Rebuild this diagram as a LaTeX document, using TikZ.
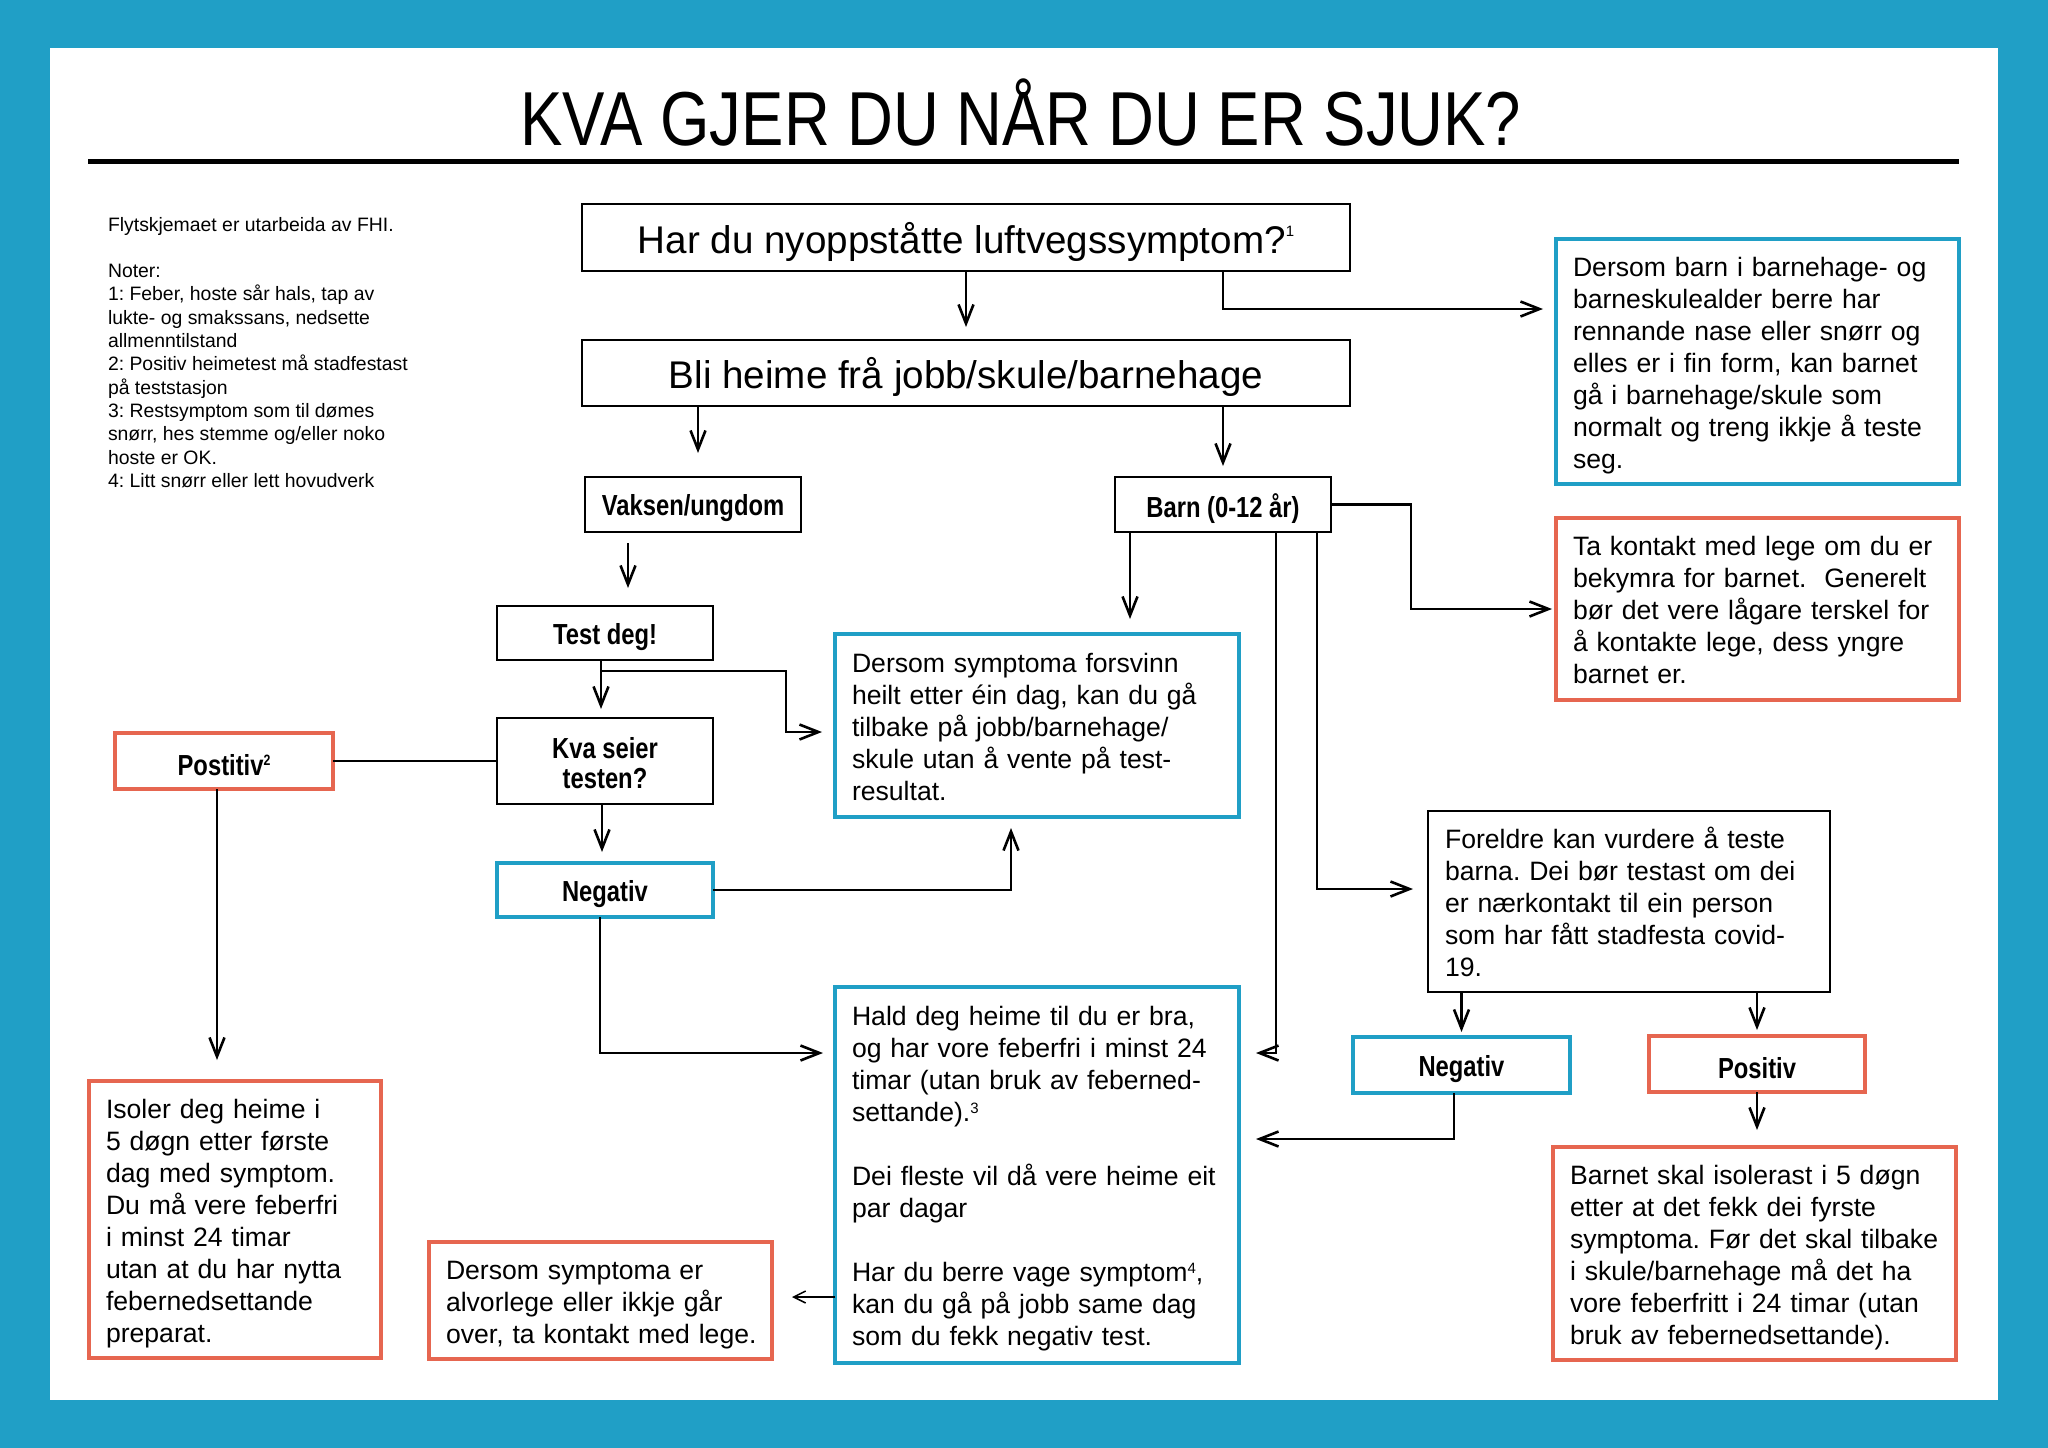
\documentclass[tikz,border=0pt]{standalone}
\usepackage{fontspec}
\setmainfont{Liberation Sans}
\newfontfamily\narrowfont[FakeStretch=0.82]{Liberation Sans}
\newfontfamily\titlefont[FakeStretch=0.83]{Liberation Sans}
\usetikzlibrary{arrows.meta,calc}
\definecolor{fhiblue}{RGB}{32,159,198}
\definecolor{fhired}{RGB}{230,102,80}
\newcommand\boxlines[1]{\raisebox{-4.5pt}[\height][\depth]{\begin{tabular}{@{}l@{}}#1\end{tabular}}}
\newcommand\lowertext[1]{\raisebox{-4pt}[\height][\depth]{#1}}
\newcommand\supnum[2]{\raisebox{#2}{\fontsize{15}{15}\selectfont #1}}
\frenchspacing
\begin{document}
\begin{tikzpicture}[x=1pt,y=-1pt,
  every node/.style={inner sep=0pt, outer sep=0pt},
  conn/.style={line width=2.6pt, -{Straight Barb[length=19pt,width=15pt]}},
  plainline/.style={line width=2.6pt},
  thinarrow/.style={line width=1.5pt, -{Straight Barb[length=12pt,width=12pt]}},
  bigbox/.style={draw, line width=2.8pt, font=\fontsize{38.6}{46}\selectfont, minimum width=768pt, minimum height=67pt},
  lbl/.style={draw, line width=2.8pt, font=\narrowfont\bfseries\fontsize{29}{30}\selectfont, minimum width=216pt, minimum height=55pt, align=center},
  bluelbl/.style={lbl, draw=fhiblue, line width=4.5pt},
  redlbl/.style={lbl, draw=fhired, line width=4.5pt},
  tbox/.style={draw, line width=2.8pt, font=\fontsize{26.6}{32}\selectfont, inner xsep=17pt, align=left, text width=#1},
  bluebox/.style={tbox=#1, draw=fhiblue, line width=4.5pt},
  redbox/.style={tbox=#1, draw=fhired, line width=4.5pt}
]
\useasboundingbox (0,0) rectangle (2048,1448);
\fill[fhiblue] (0,0) rectangle (2048,1448);
\fill[white] (50,48) rectangle (1998,1400);

% title
\node[anchor=base, font=\titlefont\fontsize{76.5}{80}\selectfont] (title) at (1021,145) {KVA GJER DU NÅR DU ER SJUK?};
\coordinate (ruleL) at (88,161);
\coordinate (ruleR) at (1959,161);
\draw[line width=5pt] (ruleL) -- (ruleR);

% notes
\node[anchor=north west, font=\fontsize{19.4}{23.3}\selectfont] (notes) at (108,214.7) {\begin{tabular}{@{}l@{}}%
Flytskjemaet er utarbeida av FHI.\\[23.3pt]
Noter:\\
1: Feber, hoste sår hals, tap av\\
lukte- og smakssans, nedsette\\
allmenntilstand\\
2: Positiv heimetest må stadfestast\\
på teststasjon\\
3: Restsymptom som til dømes\\
snørr, hes stemme og/eller noko\\
hoste er OK.\\
4: Litt snørr eller lett hovudverk\end{tabular}};

% main boxes
\node[bigbox] (q1) at (966,237.5) {\lowertext{Har du nyoppståtte luftvegssymptom?\supnum{1}{16.5pt}}};
\node[bigbox, minimum height=66pt] (stay) at (966,373) {\lowertext{Bli heime frå jobb/skule/barnehage}};

\node[bluebox=369pt, minimum height=245pt] (kidsok) at (1757.5,361.5) {\boxlines{%
Dersom barn i barnehage- og\\
barneskulealder berre har\\
rennande nase eller snørr og\\
elles er i fin form, kan barnet\\
gå i barnehage/skule som\\
normalt og treng ikkje å teste\\
seg.}};

\node[redbox=369pt, minimum height=182pt] (doctor) at (1757.5,609) {\boxlines{%
Ta kontakt med lege om du er\\
bekymra for barnet.~ Generelt\\
bør det vere lågare terskel for\\
å kontakte lege, dess yngre\\
barnet er.}};

\node[lbl] (adult) at (693,504.5) {\lowertext{Vaksen/ungdom}};
\node[lbl] (child) at (1223,504.5) {\lowertext{Barn (0-12 år)}};
\node[lbl, minimum height=54pt] (test) at (605,633) {\lowertext{Test deg!}};
\node[lbl, minimum height=86pt] (result) at (605,761) {\raisebox{-6pt}[\height][\depth]{\begin{tabular}{@{}c@{}}Kva seier\\testen?\end{tabular}}};
\node[bluelbl, minimum height=54pt] (negA) at (605,890) {\lowertext{Negativ}};
\node[redlbl, minimum width=218pt, minimum height=56pt] (posA) at (224,761) {\lowertext{Postitiv\supnum{2}{9.5pt}}};

\node[bluebox=370pt, minimum height=183pt] (gone) at (1037,725.5) {\boxlines{%
Dersom symptoma forsvinn\\
heilt etter éin dag, kan du gå\\
tilbake på jobb/barnehage/\\
skule utan å vente på test-\\
resultat.}};

\node[bluebox=370pt, minimum height=376pt] (home) at (1037,1175) {\boxlines{%
Hald deg heime til du er bra,\\
og har vore feberfri i minst 24\\
timar (utan bruk av feberned-\\
settande).\supnum{3}{8pt}\\[32pt]
Dei fleste vil då vere heime eit\\
par dagar\\[32pt]
Har du berre vage symptom\supnum{4}{8pt},\\
kan du gå på jobb same dag\\
som du fekk negativ test.}};

\node[tbox=368pt, minimum height=181pt] (parents) at (1629,901.5) {\boxlines{%
Foreldre kan vurdere å teste\\
barna. Dei bør testast om dei\\
er nærkontakt til ein person\\
som har fått stadfesta covid-\\
19.}};

\node[bluelbl, minimum width=217pt, minimum height=56pt] (negB) at (1461.5,1065) {\lowertext{Negativ}};
\node[redlbl, minimum height=56pt] (posB) at (1757,1064) {\lowertext{Positiv}};

\node[redbox=258pt, minimum height=277pt] (isolate) at (235,1219.5) {\boxlines{%
Isoler deg heime i\\
5 døgn etter første\\
dag med symptom.\\
Du må vere feberfri\\
i minst 24 timar\\
utan at du har nytta\\
febernedsettande\\
preparat.}};

\node[redbox=309pt, minimum height=117pt] (serious) at (600.5,1300.5) {\boxlines{%
Dersom symptoma er\\
alvorlege eller ikkje går\\
over, ta kontakt med lege.}};

\node[redbox=369pt, minimum height=213pt] (isolateB) at (1754.5,1253.5) {\boxlines{%
Barnet skal isolerast i 5 døgn\\
etter at det fekk dei fyrste\\
symptoma. Før det skal tilbake\\
i skule/barnehage må det ha\\
vore feberfritt i 24 timar (utan\\
bruk av febernedsettande).}};

% connectors
\draw[conn, shorten >=13pt] (q1.south) -- (stay.north);
\draw[conn] (q1.south -| child) |- ($(kidsok.north west)+(-13,70)$);
\draw[conn, shorten >=24pt] ([xshift=5pt]adult.north |- stay.south) -- ([xshift=5pt]adult.north);
\draw[conn, shorten >=11pt] (child.north |- stay.south) -- (child.north);
\draw[conn, shorten >=4pt] (child.east) -- ++(80,0) |- (doctor.west);
\draw[conn, shorten <=11pt, shorten >=18pt] ([xshift=-65pt]adult.south) -- ([xshift=-65pt]adult.south |- test.north);
\draw[conn, shorten >=9pt] ([xshift=-4pt]test.south) -- ([xshift=-4pt]test.south |- result.north);
\draw[conn, shorten >=13pt] ([xshift=-4pt]test.south) -- ++(0,11) -- ++(185,0) |- ([yshift=-6.5pt]gone.west);
\draw[plainline] (result.west) -- (posA.east);
\draw[conn, shorten >=11pt] ([xshift=-3pt]result.south) -- ([xshift=-3pt]result.south |- negA.north);
\draw[conn, shorten >=21pt] ([xshift=-7pt]posA.south) -- ([xshift=-7pt]posA.south |- isolate.north);
\draw[conn, shorten >=12pt] ([xshift=-5pt]negA.south) |- ([yshift=122pt]home.west);
\draw[conn, shorten >=11pt] (negA.east) -| ([xshift=-26pt]gone.south);
\draw[conn, shorten >=15pt] ([xshift=15pt]child.south west) -- ([xshift=15pt]child.south west |- gone.north);
\draw[conn, shorten >=17pt] ([xshift=53pt]child.south) |- ([yshift=122pt]home.east);
\draw[conn, shorten >=15pt] ([xshift=-14pt]child.south east) |- ([yshift=12.5pt]parents.west);
\draw[conn, shorten >=5pt] (negB.north |- parents.south) -- (negB.north);
\draw[conn, shorten >=6pt] (posB.north |- parents.south) -- (posB.north);
\draw[conn, shorten >=17pt] (posB.south) -- (posB.south |- isolateB.north);
\draw[conn, shorten >=17pt] ([xshift=-7.5pt]negB.south) |- ([yshift=36pt]home.east);
\draw[thinarrow, shorten >=20pt] ([yshift=-122pt]home.west) -- ([yshift=-122pt]home.west -| serious.east);
\end{tikzpicture}
\end{document}
